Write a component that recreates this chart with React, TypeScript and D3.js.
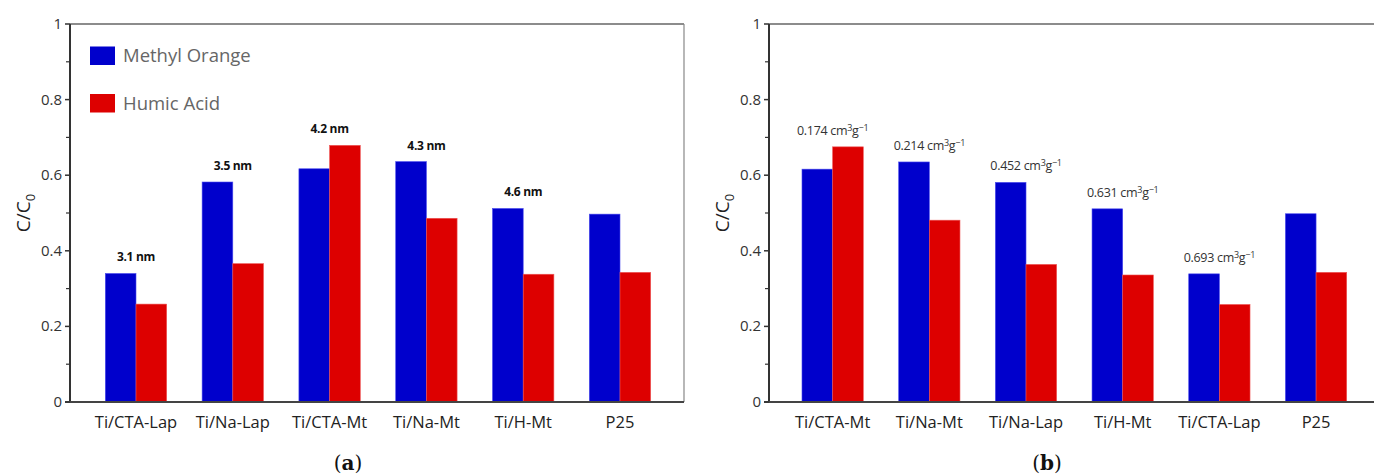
import React from "react";
import * as d3 from "d3";

const categoriesA = ["Ti/CTA-Lap", "Ti/Na-Lap", "Ti/CTA-Mt", "Ti/Na-Mt", "Ti/H-Mt", "P25"];
const methylOrangeA = [0.34, 0.582, 0.617, 0.636, 0.512, 0.497];
const humicAcidA = [0.259, 0.366, 0.679, 0.486, 0.338, 0.343];
const poreSizeA = ["3.1 nm", "3.5 nm", "4.2 nm", "4.3 nm", "4.6 nm", ""];

const categoriesB = ["Ti/CTA-Mt", "Ti/Na-Mt", "Ti/Na-Lap", "Ti/H-Mt", "Ti/CTA-Lap", "P25"];
const methylOrangeB = [0.616, 0.635, 0.581, 0.511, 0.339, 0.498];
const humicAcidB = [0.675, 0.481, 0.364, 0.336, 0.258, 0.343];
const poreVolumeB = ["0.174", "0.214", "0.452", "0.631", "0.693", ""];

const seriesNames = ["Methyl Orange", "Humic Acid"];
const yMajorTicks = [0, 0.2, 0.4, 0.6, 0.8, 1];
const yMinorTicks = [0.1, 0.3, 0.5, 0.7, 0.9];

const BLUE = "#0000CC";
const RED = "#DD0000";
const FONT = "'Open Sans', 'Noto Sans', sans-serif";

type PanelProps = {
  axisX: number;
  rightX: number;
  bandRange: [number, number];
  categories: string[];
  mo: number[];
  ha: number[];
  notes: string[];
  volumeNotes: boolean;
  label: string;
  labelX: number;
  yLabelX: number;
  showLegend: boolean;
};

const yScale = d3.scaleLinear().domain([0, 1]).range([402, 24]);

function Note({ x, y, text, volume }: { x: number; y: number; text: string; volume: boolean }) {
  if (!volume) {
    return (
      <text x={x} y={y} textAnchor="middle" fontFamily={FONT} fontSize={12} fontWeight={700} fill="#111" letterSpacing={-0.3}>
        {text}
      </text>
    );
  }
  return (
    <text x={x} y={y} textAnchor="middle" fontFamily={FONT} fontSize={12.5} fill="#333" letterSpacing={-0.3}>
      {text} cm<tspan fontSize={9} dy={-4}>3</tspan>
      <tspan dy={4}>g</tspan>
      <tspan fontSize={9} dy={-4}>−1</tspan>
    </text>
  );
}

function Panel(p: PanelProps) {
  const x0 = d3.scaleBand<string>().domain(p.categories).range(p.bandRange).padding(0);
  const gw = x0.bandwidth() * 0.634;
  const x1 = d3.scaleBand<string>().domain(seriesNames).range([0, gw]);
  const top = yScale(1);
  const bottom = yScale(0);
  return (
    <g>
      <line x1={p.axisX} x2={p.rightX} y1={top} y2={top} stroke="#666" strokeWidth={1.5} />
      <line x1={p.rightX} x2={p.rightX} y1={top} y2={bottom} stroke="#888" strokeWidth={1.2} />
      {p.categories.map((c, i) => {
        const cx = (x0(c) as number) + x0.bandwidth() / 2;
        const gx = cx - gw / 2;
        const vals = [p.mo[i], p.ha[i]];
        const maxTop = yScale(Math.max(p.mo[i], p.ha[i]));
        return (
          <g key={c}>
            {vals.map((v, j) => (
              <rect
                key={j}
                x={gx + (x1(seriesNames[j]) as number)}
                y={yScale(v)}
                width={x1.bandwidth()}
                height={bottom - yScale(v)}
                fill={j === 0 ? BLUE : RED}
                stroke={j === 0 ? "#4a4aee" : "#ee5555"}
                strokeWidth={0.6}
              />
            ))}
            {p.notes[i] && <Note x={cx} y={maxTop - 12} text={p.notes[i]} volume={p.volumeNotes} />}
            <text x={cx} y={428} textAnchor="middle" fontFamily={FONT} fontSize={16.5} fill="#222">
              {c}
            </text>
          </g>
        );
      })}
      <line x1={p.axisX} x2={p.axisX} y1={top} y2={bottom} stroke="#333" strokeWidth={2} />
      <line x1={p.axisX - 5} x2={p.rightX} y1={bottom} y2={bottom} stroke="#444" strokeWidth={2} />
      {yMajorTicks.map((t) => (
        <g key={"M" + t}>
          <line x1={p.axisX - 5} x2={p.axisX} y1={yScale(t)} y2={yScale(t)} stroke="#333" strokeWidth={1.5} />
          <text x={p.axisX - 8} y={yScale(t) + 5} textAnchor="end" fontFamily={FONT} fontSize={15} fill="#333">
            {String(t)}
          </text>
        </g>
      ))}
      {yMinorTicks.map((t) => (
        <line key={"m" + t} x1={p.axisX - 4} x2={p.axisX} y1={yScale(t)} y2={yScale(t)} stroke="#333" strokeWidth={1.2} />
      ))}
      <text
        transform={`translate(${p.yLabelX},${(top + bottom) / 2}) rotate(-90)`}
        textAnchor="middle"
        fontFamily={FONT}
        fontSize={19}
        fill="#222"
      >
        C/C<tspan fontSize={13} dy={5}>0</tspan>
      </text>
      <text
        x={p.labelX}
        y={470}
        textAnchor="middle"
        fontFamily="'DejaVu Serif', 'Liberation Serif', serif"
        fontSize={20}
        fill="#111"
      >
        (<tspan fontWeight={700}>{p.label}</tspan>)
      </text>
      {p.showLegend && (
        <g>
          {seriesNames.map((s, j) => (
            <g key={s}>
              <rect x={90} y={46.5 + j * 47.5} width={25} height={18.5} fill={j === 0 ? BLUE : RED} />
              <text x={123} y={62 + j * 47.5} fontFamily={FONT} fontSize={18.5} fill="#666">
                {s}
              </text>
            </g>
          ))}
        </g>
      )}
    </g>
  );
}

export default function App() {
  return (
    <svg width={1374} height={475} style={{ position: "absolute", left: 0, top: 0, background: "#fff" }}>
      <rect width={1374} height={475} fill="#fff" />
      <Panel
        axisX={70}
        rightX={684}
        bandRange={[87.6, 668.4]}
        categories={categoriesA}
        mo={methylOrangeA}
        ha={humicAcidA}
        notes={poreSizeA}
        volumeNotes={false}
        label="a"
        labelX={348}
        yLabelX={30}
        showLegend={true}
      />
      <Panel
        axisX={769}
        rightX={1390}
        bandRange={[784.3, 1364.4]}
        categories={categoriesB}
        mo={methylOrangeB}
        ha={humicAcidB}
        notes={poreVolumeB}
        volumeNotes={true}
        label="b"
        labelX={1047}
        yLabelX={729}
        showLegend={false}
      />
    </svg>
  );
}
